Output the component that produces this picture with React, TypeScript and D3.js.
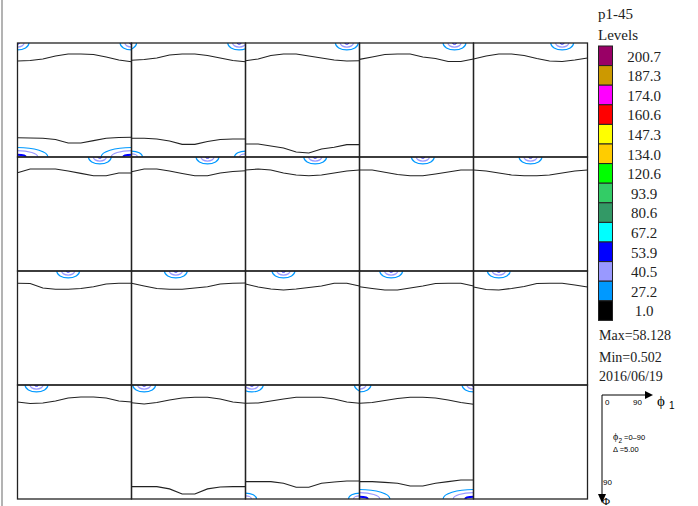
import React from 'react';
import * as d3 from 'd3';

// phi2 sections, one panel each (0..90 step 5)
const phi2Sections = [0, 5, 10, 15, 20, 25, 30, 35, 40, 45, 50, 55, 60, 65, 70, 75, 80, 85, 90];
// phi1 positions where the level lines were read
const phi1Grid = [0, 10, 20, 30, 40, 50, 60, 70, 80, 90];

// Phi of the 1.0 level line near Phi = 0, one row per section
const topLine = [
  [14.2, 13.8, 12.6, 10.3, 8.7, 8.7, 9.1, 11, 13.4, 14.8],
  [13.6, 13, 11.8, 9.5, 8.7, 8.7, 9.9, 11.8, 13.8, 14.8],
  [14, 12.6, 9.9, 8.7, 8.7, 10.3, 11.8, 13.4, 14.2, 14],
  [12.9, 11, 9.1, 8.7, 8.7, 11, 12.2, 14.6, 14.6, 12.6],
  [12.6, 10.3, 8.7, 8.7, 9.9, 12.2, 14.2, 14.6, 13.4, 11.8],
  [12.4, 9.5, 9.5, 9.5, 11, 12.9, 14.8, 14.8, 12.6, 12.6],
  [11.6, 9.5, 9.5, 11, 13, 14.8, 14.8, 12.6, 11.4, 10.8],
  [10.3, 9.5, 10.3, 12.6, 14.2, 14.8, 14.2, 12.6, 11, 10.3],
  [10.3, 10.3, 12, 13.8, 14.8, 14.8, 13.4, 11.8, 10.3, 10.3],
  [10.3, 11, 12.6, 14.2, 14.8, 14.8, 14.2, 12.6, 11, 10.3],
  [9.7, 9.9, 13.4, 14.4, 14.4, 13.8, 12.4, 10.3, 9.7, 9.7],
  [9.7, 11.8, 13.8, 14.4, 14.4, 13.4, 12.4, 10.3, 9.7, 9.5],
  [10.3, 12.6, 14.2, 15, 14.2, 13, 11.8, 9.7, 9.7, 11.8],
  [12.4, 13.8, 15, 15, 13.4, 11.8, 9.9, 9.7, 9.7, 11.8],
  [12.6, 14.6, 15, 13.8, 12.2, 9.9, 9.7, 9.7, 11, 12.6],
  [13.4, 14.6, 14.2, 12.6, 10.3, 9.5, 9.5, 10.3, 12.6, 13.4],
  [14, 15, 13.8, 11.8, 10.3, 9.7, 9.7, 11, 13.4, 14.4],
  [14.4, 14.2, 12.6, 11, 9.7, 9.7, 9.7, 11, 13.4, 14.4],
  [14.4, 13.8, 12.2, 10.7, 9.7, 9.7, 10.3, 11.8, 13.8, 15.2],
];

// sections that also have a 1.0 line near Phi = 90
const bottomLinePanels = [0, 1, 2, 16, 17, 18];
const bottomLine = [
  [74.8, 75, 75.2, 76.2, 78.9, 78.9, 77.1, 75.2, 74.6, 74.4],
  [75.2, 75.2, 75.8, 77.4, 80, 80, 77.8, 76.2, 75.8, 75.8],
  [79.7, 79.7, 81.3, 82.9, 86, 86.8, 83.7, 82.3, 80.2, 80.2],
  [80.2, 80.2, 80.2, 82, 86, 86, 82, 80.5, 80.2, 80.2],
  [76.3, 76.3, 76.3, 77.6, 80.7, 80.7, 77.6, 76.6, 75.8, 75.8],
  [76.3, 76.3, 76.9, 77.6, 79.7, 79.7, 77.6, 76.3, 75, 75],
];

// peaks on Phi = 0, phi1 of each per section
const topPeakPhi1 = [
  [0, 90], [-5, 85], [80], [75], [70], [65], [60], [55], [50], [45],
  [40], [35], [30], [25], [20], [15], [10], [5, 95], [0, 90],
];
// peaks on Phi = 90
const bottomPeakPanels = [0, 0, 1, 1, 17, 17, 18, 18];
const bottomPeakPhi1 = [0, 90, 0, 90, 0, 90, 0, 90];
const bottomPeakBig = [true, true, false, false, false, false, true, true];

// half-widths (deg) of the 27.2 / 40.5 / 53.9 contours
const topPeakRx = [9, 5.2, 1.6];
const topPeakRy = [5.5, 3.2, 0.9];
const bigPeakRx = [24, 16, 6.5];
const bigPeakRy = [7.5, 5, 1.8];
const smallPeakRx = [8.7, 4.7, 0];
const smallPeakRy = [4.7, 2.4, 0];
const peakColors = ['#0099ff', '#9999ff', '#0000ff'];

const legendLevels = ['200.7', '187.3', '174.0', '160.6', '147.3', '134.0', '120.6', '93.9', '80.6', '67.2', '53.9', '40.5', '27.2', '1.0'];
const legendColors = ['#990066', '#cc9900', '#ff00ff', '#ff0000', '#ffff00', '#ffcc00', '#00ff00', '#33cc66', '#339966', '#00ffff', '#0000ff', '#9999ff', '#0099ff', '#000000'];

const W = 698;
const H = 506;
const gridLeft = 17.5;
const gridTop = 43;
const cell = 114;
const nCols = 5;
const nRows = 4;
const serif = '"Liberation Serif", "Times New Roman", serif';
const sans = '"Liberation Sans", Arial, sans-serif';

function Panel({ index }: { index: number }) {
  const col = index % nCols;
  const row = Math.floor(index / nCols);
  const x0 = gridLeft + col * cell;
  const y0 = gridTop + row * cell;
  const x = d3.scaleLinear().domain([0, 90]).range([x0, x0 + cell]);
  const y = d3.scaleLinear().domain([0, 90]).range([y0, y0 + cell]);
  const line = d3.line<[number, number]>().x(d => x(d[0])).y(d => y(d[1]));
  const dx = (v: number) => x(v) - x(0);
  const dy = (v: number) => y(v) - y(0);

  const bi = bottomLinePanels.indexOf(index);
  const ellipses: JSX.Element[] = [];
  topPeakPhi1[index].forEach((p1, k) => {
    peakColors.forEach((c, l) => {
      ellipses.push(
        <ellipse key={`t${k}-${l}`} cx={x(p1)} cy={y(0)} rx={dx(topPeakRx[l])} ry={dy(topPeakRy[l])}
          fill="none" stroke={c} strokeWidth={l === 2 ? 1 : 1.2} />
      );
    });
  });
  bottomPeakPanels.forEach((p, k) => {
    if (p !== index) return;
    const rx = bottomPeakBig[k] ? bigPeakRx : smallPeakRx;
    const ry = bottomPeakBig[k] ? bigPeakRy : smallPeakRy;
    peakColors.forEach((c, l) => {
      if (rx[l] <= 0) return;
      ellipses.push(
        <ellipse key={`b${k}-${l}`} cx={x(bottomPeakPhi1[k])} cy={y(90)} rx={dx(rx[l])} ry={dy(ry[l])}
          fill="none" stroke={c} strokeWidth={l === 2 ? 2 : 1.2} />
      );
    });
  });

  return (
    <g>
      <clipPath id={`clip-${index}`}>
        <rect x={x0} y={y0} width={cell} height={cell} />
      </clipPath>
      <g clipPath={`url(#clip-${index})`}>
        {ellipses}
        <path d={line(phi1Grid.map((p, i) => [p, topLine[index][i]]) as [number, number][]) || ''}
          fill="none" stroke="#222" strokeWidth={1.1} />
        {bi >= 0 && (
          <path d={line(phi1Grid.map((p, i) => [p, bottomLine[bi][i]]) as [number, number][]) || ''}
            fill="none" stroke="#222" strokeWidth={1.1} />
        )}
      </g>
    </g>
  );
}

export default function App() {
  const cells = d3.range(nCols * nRows);
  const swatchTop = 46;
  const swatchStep = 19.6;

  return (
    <svg width={W} height={H} style={{ position: 'absolute', left: 0, top: 0, background: '#fff' }}>
      <rect x={0} y={0} width={W} height={H} fill="#fff" />
      <line x1={2} x2={2} y1={0} y2={H} stroke="#9a9a9a" strokeWidth={1.5} />

      {phi2Sections.map((_, i) => <Panel key={i} index={i} />)}

      {cells.map(i => (
        <rect key={i} x={gridLeft + (i % nCols) * cell} y={gridTop + Math.floor(i / nCols) * cell}
          width={cell} height={cell} fill="none" stroke="#222" strokeWidth={1.3} />
      ))}

      {/* legend */}
      <g fontFamily={serif} fill="#222">
        <text x={598} y={19} fontSize={15}>p1-45</text>
        <text x={598} y={39.5} fontSize={15}>Levels</text>
        {legendLevels.map((lv, i) => (
          <g key={lv}>
            <rect x={598.5} y={swatchTop + i * swatchStep} width={14} height={swatchStep}
              fill={legendColors[i]} stroke="#222" strokeWidth={1} />
            <text x={644} y={swatchTop + i * swatchStep + 15.5} fontSize={15} textAnchor="middle">{lv}</text>
          </g>
        ))}
        <text x={599} y={340} fontSize={14}>Max=58.128</text>
        <text x={599} y={361.5} fontSize={14}>Min=0.502</text>
        <text x={599} y={381} fontSize={14}>2016/06/19</text>
      </g>

      {/* axis key */}
      <g fill="#000" stroke="none">
        <line x1={602} x2={648} y1={395} y2={395} stroke="#000" strokeWidth={1} />
        <path d="M645,391 L653,395 L645,399 Z" />
        <line x1={602} x2={602} y1={395} y2={496} stroke="#000" strokeWidth={1} />
        <path d="M598,494 L602,503 L606,494 Z" />
        <text x={605} y={405} fontSize={8} fontFamily={sans}>0</text>
        <text x={633} y={405} fontSize={8} fontFamily={sans}>90</text>
        <text x={657} y={406} fontSize={15} fontFamily={serif}>ϕ</text>
        <text x={669} y={409} fontSize={10} fontFamily={sans}>1</text>
        <text x={613} y={440} fontSize={10} fontFamily={serif}>ϕ</text>
        <text x={618.5} y={443} fontSize={6.5} fontFamily={sans}>2</text>
        <text x={624} y={440} fontSize={7.5} fontFamily={sans}>=0–90</text>
        <text x={613} y={452} fontSize={7.5} fontFamily={sans}>Δ =5.00</text>
        <text x={603} y={485} fontSize={8} fontFamily={sans}>90</text>
        <text x={602} y={505} fontSize={11} fontFamily={serif}>Φ</text>
      </g>
    </svg>
  );
}
